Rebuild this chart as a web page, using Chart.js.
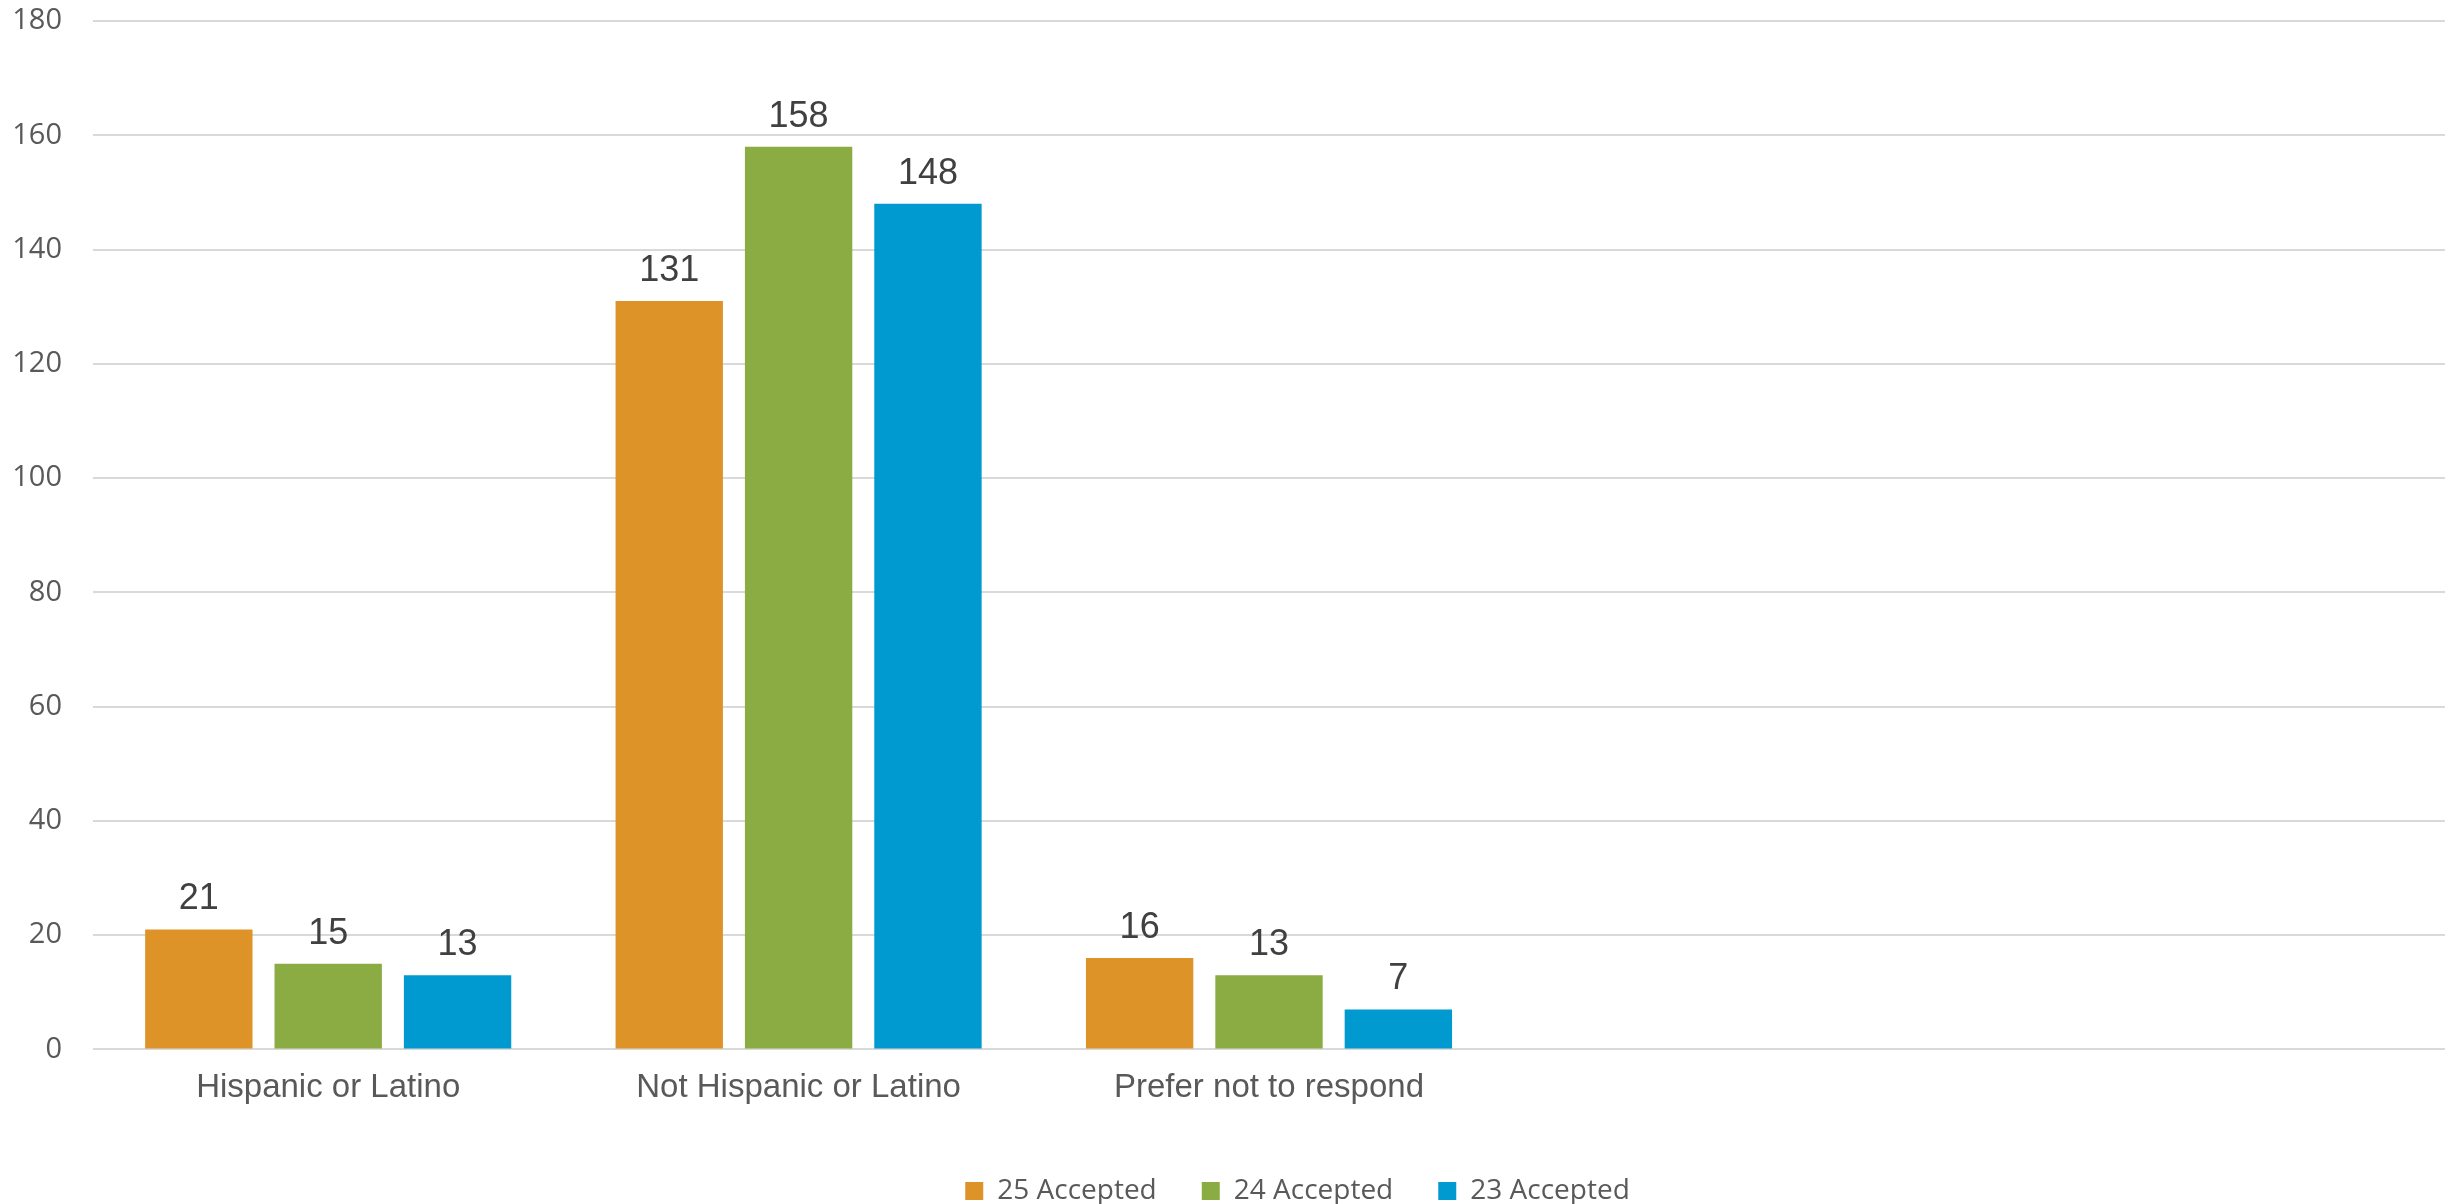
<!DOCTYPE html>
<html>
<head>
<meta charset="utf-8">
<script src="https://cdn.jsdelivr.net/npm/chart.js@4.4.1/dist/chart.umd.min.js"></script>
<style>
  body { margin: 0; background: #fff; }
  .wrap { width: 2445px; height: 1204px; position: relative; }
</style>
</head>
<body>
<div class="wrap"><canvas id="ethnicityChart"></canvas></div>
<script>
// chart data
const categories = ["Hispanic or Latino", "Not Hispanic or Latino", "Prefer not to respond", "", ""];
const seriesNames = ["25 Accepted", "24 Accepted", "23 Accepted"];
const accepted25 = [21, 131, 16, null, null];
const accepted24 = [15, 158, 13, null, null];
const accepted23 = [13, 148, 7, null, null];
const yTicks = [0, 20, 40, 60, 80, 100, 120, 140, 160, 180];

const colors = ["#de9328", "#8aac42", "#0099d0"];

// value labels above each bar
const barLabels = {
  id: "barLabels",
  afterDatasetsDraw(chart) {
    const ctx = chart.ctx;
    ctx.save();
    ctx.font = "36px 'Liberation Sans', Arial, sans-serif";
    ctx.fillStyle = "#404040";
    ctx.textAlign = "center";
    ctx.textBaseline = "alphabetic";
    chart.data.datasets.forEach((ds, i) => {
      chart.getDatasetMeta(i).data.forEach((bar, j) => {
        if (ds.data[j] == null) return;
        ctx.fillText(ds.data[j], bar.x, bar.y - 20);
      });
    });
    ctx.restore();
  },
};

// legend sits a little right of centre in the original
const legendShift = {
  id: "legendShift",
  afterLayout(chart) {
    if (chart.legend) {
      chart.legend.left += 75;
      chart.legend.right += 75;
    }
  },
};

new Chart(document.getElementById("ethnicityChart"), {
  type: "bar",
  data: {
    labels: categories,
    datasets: [
      { label: seriesNames[0], data: accepted25, backgroundColor: colors[0] },
      { label: seriesNames[1], data: accepted24, backgroundColor: colors[1] },
      { label: seriesNames[2], data: accepted23, backgroundColor: colors[2] },
    ],
  },
  options: {
    responsive: true,
    maintainAspectRatio: false,
    animation: false,
    categoryPercentage: 0.825,
    barPercentage: 0.83,
    layout: { padding: { top: 21, right: 0, left: 0, bottom: -11 } },
    plugins: {
      legend: {
        position: "bottom",
        labels: {
          boxWidth: 18,
          boxHeight: 18,
          padding: 45,
          color: "#595959",
          font: { family: "'Open Sans', sans-serif", size: 28 },
        },
      },
      tooltip: { enabled: false },
    },
    scales: {
      x: {
        grid: { display: false, drawTicks: false },
        border: { display: false },
        ticks: {
          padding: 19,
          color: "#595959",
          font: { family: "'Liberation Sans', Arial, sans-serif", size: 33 },
          maxRotation: 0,
          autoSkip: false,
        },
        afterFit: (scale) => {
          scale.paddingLeft = 0;
          scale.paddingRight = 0;
          scale.height += 5;
        },
      },
      y: {
        min: 0,
        max: 180,
        afterBuildTicks: (axis) => {
          axis.ticks = yTicks.map((v) => ({ value: v }));
        },
        afterFit: (scale) => {
          scale.width = 93;
          scale.paddingTop = 0;
          scale.paddingBottom = 0;
        },
        grid: { color: "#d9d9d9", lineWidth: 2, drawTicks: false },
        border: { display: false },
        ticks: {
          padding: 31,
          color: "#595959",
          font: { family: "'Open Sans', sans-serif", size: 29 },
        },
      },
    },
  },
  plugins: [barLabels, legendShift],
});
</script>
</body>
</html>
